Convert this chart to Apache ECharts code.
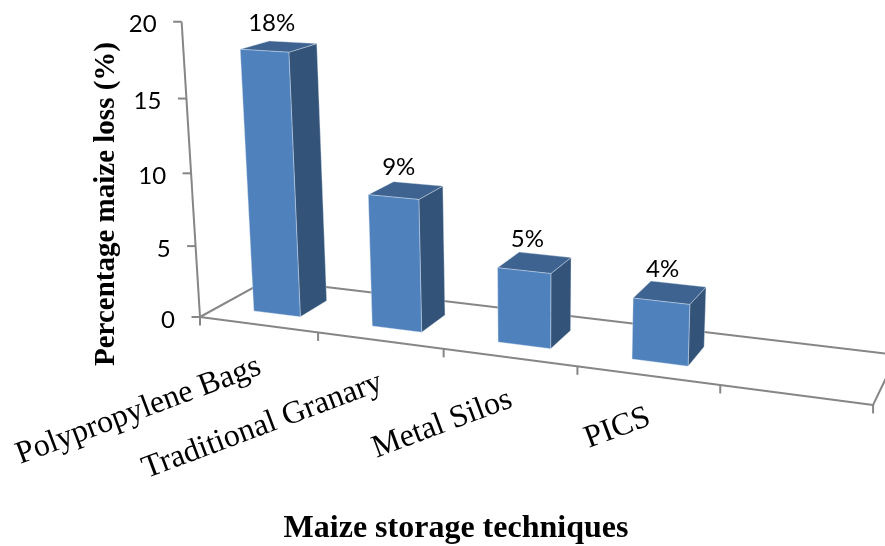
<!DOCTYPE html>
<html>
<head>
<meta charset="utf-8">
<style>
	html, body { margin: 0; padding: 0; background: #fff; }
	#chart { width: 885px; height: 546px; }
</style>
<script src="https://cdn.jsdelivr.net/npm/echarts@6/dist/echarts.min.js"></script>
</head>
<body>
<div id="chart"></div>
<script>
const categories = ["Polypropylene Bags", "Traditional Granary", "Metal Silos", "PICS", ""];
const lossValues = [18, 9, 5, 4, null];
const lossLabels = ["18%", "9%", "5%", "4%", ""];
const yTicks = [0, 5, 10, 15, 20];

const Y_MAX = 20;
const WIDTH = 885;
const HEIGHT = 546;

// bar footprint, as a share of the category band and of the floor depth
const BAR_SHARE = 0.4;
const BAR_NUDGE = 1;
const BAR_FRONT = 0.27;
const BAR_BACK = 0.69;

// camera fitted to the picture: u along the front edge, v into the floor, t up the wall (0..1)
function project(u, v, t) {
	const h = t * Y_MAX;
	const w = 1 - 0.149 * u + 0.0739 * v - 0.0026 * h;
	return [
		(200 + 543 * u + 86.7 * v - 1.39 * h) / w,
		(317 + 27.6 * u - 16.3 * v - 14.82 * h) / w,
	];
}

const chart = echarts.init(document.getElementById("chart"), null, { renderer: "canvas" });

// grid pixels back to 0..1 so the axes' scales feed the camera
const toU = (px) => px / WIDTH;
const toT = (py) => (HEIGHT - py) / HEIGHT;

function line(a, b) {
	return {
		type: "line",
		shape: { x1: a[0], y1: a[1], x2: b[0], y2: b[1] },
		style: { stroke: "#868686", lineWidth: 2, fill: null },
	};
}

function face(points, color) {
	return {
		type: "polygon",
		shape: { points },
		style: { fill: color, stroke: "#dfe8f3", lineWidth: 0.4 },
	};
}

function renderFrame(params, api) {
	const band = api.size([1, 0])[0];
	const children = [];

	// floor outline
	const a = project(0, 0, 0);
	const b = project(1, 0, 0);
	const c = project(1, 1, 0);
	const d = project(0, 1, 0);
	children.push(line(a, b), line(b, c), line(c, d), line(d, a));

	// slanted value axis with its ticks and labels
	children.push(line(a, project(0, 0, toT(api.coord([0, Y_MAX])[1]))));
	yTicks.forEach((tick) => {
		const p = project(0, 0, toT(api.coord([0, tick])[1]));
		children.push(line(p, [p[0] - 8.5, p[1]]));
		children.push({
			type: "text",
			x: p[0] - 25,
			y: p[1] + 3,
			style: {
				text: String(tick),
				font: "24px Lato",
				fill: "#000",
				align: "right",
				verticalAlign: "middle",
			},
		});
	});

	// category ticks along the front edge
	categories.forEach((name, i) => {
		const mid = api.coord([i, 0])[0];
		const edge = project(toU(mid - band / 2), 0, 0);
		children.push(line(edge, [edge[0], edge[1] + 8.5]));
		if (i === categories.length - 1) {
			const end = project(toU(mid + band / 2), 0, 0);
			children.push(line(end, [end[0], end[1] + 8.5]));
		}
		if (name) {
			const p = project(toU(mid), 0, 0);
			children.push({
				type: "text",
				x: p[0] + 1.5,
				y: p[1] + 41,
				rotation: (20.5 * Math.PI) / 180,
				style: {
					text: name,
					font: "32px 'Liberation Serif'",
					fill: "#000",
					align: "right",
					verticalAlign: "middle",
				},
			});
		}
	});

	return { type: "group", children };
}

function renderBar(params, api) {
	const value = api.value(1);
	if (value == null || isNaN(value)) return;
	const top = api.coord([api.value(0), value]);
	const base = api.coord([api.value(0), 0]);
	const half = (api.size([1, 0])[0] * BAR_SHARE) / 2;
	const u0 = toU(top[0] + BAR_NUDGE - half);
	const u1 = toU(top[0] + BAR_NUDGE + half);
	const t0 = toT(base[1]);
	const t1 = toT(top[1]);

	const labelPos = project(toU(top[0]), (BAR_FRONT + BAR_BACK) / 2, t1);

	return {
		type: "group",
		children: [
			face(
				[
					project(u1, BAR_FRONT, t0),
					project(u1, BAR_BACK, t0),
					project(u1, BAR_BACK, t1),
					project(u1, BAR_FRONT, t1),
				],
				"#335378",
			),
			face(
				[
					project(u0, BAR_FRONT, t1),
					project(u1, BAR_FRONT, t1),
					project(u1, BAR_BACK, t1),
					project(u0, BAR_BACK, t1),
				],
				"#3e6390",
			),
			face(
				[
					project(u0, BAR_FRONT, t0),
					project(u1, BAR_FRONT, t0),
					project(u1, BAR_FRONT, t1),
					project(u0, BAR_FRONT, t1),
				],
				"#4f81bd",
			),
			{
				type: "text",
				x: labelPos[0] - 6.5,
				y: labelPos[1] - 23,
				style: {
					text: lossLabels[params.dataIndex],
					font: "24px Lato",
					fill: "#000",
					align: "center",
					verticalAlign: "middle",
				},
			},
		],
	};
}

chart.setOption({
	animation: false,
	backgroundColor: "#fff",
	// the axes stay hidden, they only supply the scales the camera reads
	grid: { left: 0, top: 0, width: WIDTH, height: HEIGHT },
	xAxis: { type: "category", data: categories, show: false },
	yAxis: { type: "value", min: 0, max: Y_MAX, interval: 5, show: false },
	series: [
		{
			name: "frame",
			type: "custom",
			coordinateSystem: "cartesian2d",
			clip: false,
			silent: true,
			data: [[0, 0]],
			renderItem: renderFrame,
		},
		{
			name: "Percentage maize loss",
			type: "custom",
			coordinateSystem: "cartesian2d",
			clip: false,
			encode: { x: 0, y: 1 },
			data: lossValues.map((v, i) => [i, v]),
			renderItem: renderBar,
		},
	],
	graphic: [
		{
			type: "text",
			x: 107,
			y: 204,
			rotation: Math.PI / 2,
			style: {
				text: "Percentage maize loss (%)",
				font: "bold 29px 'Liberation Serif'",
				fill: "#000",
				align: "center",
				verticalAlign: "middle",
			},
		},
		{
			type: "text",
			x: 456,
			y: 529,
			style: {
				text: "Maize storage techniques",
				font: "bold 32px 'Liberation Serif'",
				fill: "#000",
				align: "center",
				verticalAlign: "middle",
			},
		},
	],
});
</script>
</body>
</html>
